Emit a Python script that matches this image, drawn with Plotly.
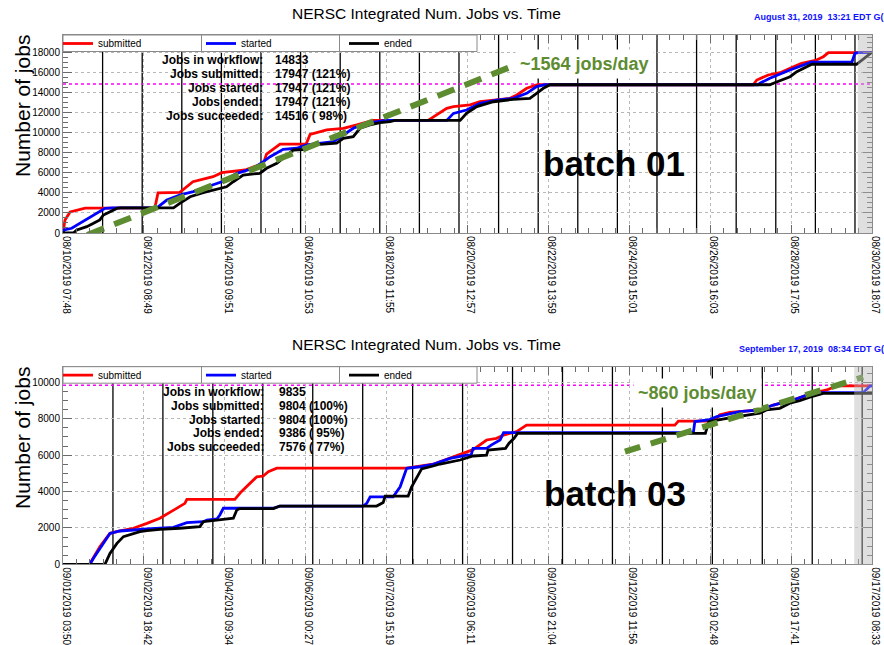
import numpy as np
import pandas as pd
import plotly.graph_objects as go

W, H = 884, 645
FONT = "Liberation Sans, Arial, Helvetica, sans-serif"

# ---------------- data: batch 01 (top) ----------------
top_start = "2019-08-10 07:48"
top_end = "2019-08-30 18:07"
top_tick_labels = ["08/10/2019 07:48", "08/12/2019 08:49", "08/14/2019 09:51", "08/16/2019 10:53",
                   "08/18/2019 11:55", "08/20/2019 12:57", "08/22/2019 13:59", "08/24/2019 15:01",
                   "08/26/2019 16:03", "08/28/2019 17:05", "08/30/2019 18:07"]
# days since start
top_sub_days = [0, 0.05, 0.18, 0.43, 0.56, 2.32, 2.40, 2.95, 3.12, 3.28, 3.79, 4.01, 4.60, 5.06, 5.14,
                5.48, 6.14, 6.24, 6.66, 7.08, 7.42, 7.67, 7.83, 9.22, 9.44, 9.69, 9.86, 10.28, 10.53, 10.95,
                11.29, 11.46, 11.71, 11.96, 12.05, 17.43, 17.52, 17.81, 18.11, 18.36, 18.65, 19.03, 19.20,
                19.33, 20.43]
top_sub_vals = [0, 1300, 2100, 2300, 2480, 2500, 4000, 4050, 4600, 5100, 5600, 6000, 6270, 6930, 7860,
                8850, 8850, 9800, 10250, 10420, 10750, 11070, 11200, 11200, 11740, 12400, 12570, 12740,
                13060, 13230, 13400, 13730, 14400, 14730, 14750, 14750, 15220, 15720, 15950, 16390,
                16880, 17210, 17540, 17947, 17947]
top_sta_days = [0, 0.03, 0.22, 0.43, 0.68, 0.93, 1.06, 1.26, 2.37, 2.62, 2.95, 3.29, 3.63, 4.01, 4.39,
                4.81, 5.06, 5.23, 5.56, 5.90, 6.15, 6.83, 7.08, 7.33, 7.67, 8.01, 8.13, 9.69, 9.86, 10.19,
                10.53, 10.95, 11.37, 11.71, 11.96, 12.17, 17.55, 17.60, 17.85, 18.36, 18.78, 18.89, 19.92,
                20.00, 20.08, 20.43]
top_sta_vals = [0, 300, 470, 960, 1620, 2120, 2450, 2500, 2500, 3280, 3780, 4110, 4600, 5100, 5940,
                6440, 7100, 7590, 8330, 8430, 8760, 9080, 9750, 10420, 10920, 11170, 11200, 11200, 11900,
                12240, 12900, 13230, 13400, 13900, 14560, 14750, 14750, 14900, 15400, 16220, 16880,
                16990, 16990, 17880, 17947, 17947]
top_end_days = [0, 0.26, 0.35, 0.60, 0.77, 0.93, 1.02, 1.19, 1.36, 1.44, 2.79, 2.95, 3.21, 3.54, 3.96,
                4.13, 4.30, 4.55, 4.97, 5.14, 5.40, 5.73, 5.82, 6.15, 6.32, 6.91, 7.08, 7.33, 7.50, 7.75,
                8.01, 8.26, 8.38, 10.03, 10.19, 10.45, 10.87, 11.37, 11.79, 11.96, 12.13, 12.30, 17.85,
                17.94, 18.36, 18.53, 18.78, 18.91, 20.04, 20.42]
top_end_vals = [0, 0, 300, 630, 960, 1300, 1790, 2120, 2450, 2500, 2500, 2950, 3610, 4010, 4450,
                4600, 5100, 5770, 5940, 6440, 6930, 7930, 8260, 8330, 8760, 8930, 9420, 9580, 10420,
                10750, 10980, 11070, 11200, 11200, 11910, 12570, 13060, 13300, 13400, 13900, 14400,
                14750, 14750, 14900, 15550, 16050, 16490, 16790, 16790, 17947]
top_fit_days = [0.61, 11.29]
top_fit_vals = [-200, 16500]
top_fit_label = "~1564 jobs/day"
top_band_start_day = 20.07
top_workflow = 14833
top_stat_labels = ["Jobs in workflow:", "Jobs submitted:", "Jobs started:", "Jobs ended:", "Jobs succeeded:"]
top_stat_values = ["14833", "17947 (121%)", "17947 (121%)", "17947 (121%)", "14516 ( 98%)"]
top_stamp = "August 31, 2019  13:21 EDT G("
top_batch = "batch 01"
top_ymax = 19700

# ---------------- data: batch 03 (bottom) ----------------
bot_start = "2019-09-01 03:50"
bot_end = "2019-09-17 08:33"
bot_tick_labels = ["09/01/2019 03:50", "09/02/2019 18:42", "09/04/2019 09:34", "09/06/2019 00:27",
                   "09/07/2019 15:19", "09/09/2019 06:11", "09/10/2019 21:04", "09/12/2019 11:56",
                   "09/14/2019 02:48", "09/15/2019 17:41", "09/17/2019 08:33"]
bot_sub_days = [0, 0.53, 0.74, 0.94, 1.14, 1.41, 1.68, 1.94, 2.24, 2.44, 2.48, 3.44, 3.57, 3.74, 3.88,
                4.01, 4.11, 4.28, 6.88, 7.41, 7.75, 8.01, 8.21, 8.48, 8.68, 8.82, 9.08, 9.28, 12.25, 12.32,
                13.02, 13.15, 13.35, 13.95, 14.22, 14.62, 15.02, 15.29, 15.49, 16.20]
bot_sub_vals = [0, 0, 970, 1700, 1830, 1980, 2250, 2530, 3020, 3350, 3570, 3570, 3990, 4450, 4810,
                4850, 5090, 5280, 5280, 5500, 5840, 6100, 6300, 6830, 6920, 7100, 7290, 7650, 7650, 7870,
                7870, 8210, 8350, 8480, 8750, 9030, 9400, 9580, 9804, 9804]
bot_sta_days = [0, 0.54, 0.61, 0.81, 0.94, 1.14, 1.34, 1.68, 2.21, 2.48, 2.81, 2.88, 3.08, 3.14, 3.21,
                4.21, 4.34, 6.01, 6.08, 6.15, 6.61, 6.75, 6.88, 7.15, 7.41, 7.75, 8.08, 8.17, 8.21, 8.48,
                8.58, 8.75, 8.82, 12.62, 12.65, 12.92, 13.09, 13.55, 13.95, 14.22, 14.62, 15.02, 16.02,
                16.16, 16.20]
bot_sta_vals = [0, 0, 330, 1150, 1700, 1830, 1880, 1940, 2030, 2290, 2340, 2430, 2490, 2710, 3080,
                3080, 3200, 3200, 3350, 3710, 3710, 4260, 5270, 5360, 5490, 5820, 6000, 6000, 6370, 6370,
                6560, 6830, 7230, 7230, 7840, 7930, 8110, 8390, 8480, 8750, 9030, 9430, 9430, 9804, 9804]
bot_end_days = [0, 0.84, 0.94, 1.08, 1.21, 1.41, 1.54, 1.68, 1.94, 2.34, 2.74, 2.81, 3.14, 3.34, 3.41,
                3.48, 3.54, 4.21, 4.34, 6.28, 6.41, 6.45, 6.91, 6.98, 7.18, 7.41, 7.55, 7.95, 8.21, 8.48,
                8.51, 8.86, 8.93, 9.03, 9.10, 12.86, 12.93, 13.29, 13.69, 13.95, 14.08, 14.35, 14.55,
                14.75, 14.95, 15.22, 16.20]
bot_end_vals = [0, 0, 600, 1150, 1520, 1700, 1790, 1850, 1920, 1980, 2070, 2340, 2430, 2470, 2530,
                2980, 3060, 3060, 3200, 3200, 3390, 3750, 3750, 4260, 5240, 5400, 5510, 5730, 5950, 6000,
                6280, 6370, 6650, 6920, 7190, 7190, 7840, 8020, 8200, 8300, 8480, 8570, 8850, 8990,
                9180, 9386, 9386]
bot_fit_days = [11.25, 16.02]
bot_fit_vals = [6190, 10290]
bot_fit_label = "~860 jobs/day"
bot_band_start_day = 15.84
bot_workflow = 9835
bot_stat_labels = ["Jobs in workflow:", "Jobs submitted:", "Jobs started:", "Jobs ended:", "Jobs succeeded:"]
bot_stat_values = ["9835", "9804 (100%)", "9804 (100%)", "9386 ( 95%)", "7576 ( 77%)"]
bot_stamp = "September 17, 2019  08:34 EDT G("
bot_batch = "batch 03"
bot_ymax = 10857

series_names = ["submitted", "started", "ended"]
series_colors = ["#ff0000", "#0000ff", "#000000"]
fit_color = "#5e8c31"


def px(x):
    return x / W


def py(y):
    return 1 - y / H


def to_time(start, days):
    return pd.Timestamp(start) + pd.to_timedelta(np.asarray(days, dtype=float), unit="D")


fig = go.Figure()
shapes = []
annotations = []

panels = [
    dict(xa="x", ya="y", xname="xaxis", yname="yaxis", legend="legend",
         start=top_start, end=top_end, labels=top_tick_labels,
         series=[(top_sub_days, top_sub_vals), (top_sta_days, top_sta_vals), (top_end_days, top_end_vals)],
         fit=(top_fit_days, top_fit_vals), fit_label=top_fit_label, band=top_band_start_day,
         workflow=top_workflow, stat_labels=top_stat_labels, stat_values=top_stat_values,
         stamp=top_stamp, batch=top_batch, ymax=top_ymax,
         top=35, bottom=233, stats_y0=60, stat_lab_x=265, stat_val_x=273,
         fit_lab=(584, 64), stamp_pos=(752, 17), title_y=13, batch_pos=(614, 163),
         ytitle_y=106, dash="18px,11px"),
    dict(xa="x2", ya="y2", xname="xaxis2", yname="yaxis2", legend="legend2",
         start=bot_start, end=bot_end, labels=bot_tick_labels,
         series=[(bot_sub_days, bot_sub_vals), (bot_sta_days, bot_sta_vals), (bot_end_days, bot_end_vals)],
         fit=(bot_fit_days, bot_fit_vals), fit_label=bot_fit_label, band=bot_band_start_day,
         workflow=bot_workflow, stat_labels=bot_stat_labels, stat_values=bot_stat_values,
         stamp=bot_stamp, batch=bot_batch, ymax=bot_ymax,
         top=366.7, bottom=564.3, stats_y0=391.7, stat_lab_x=266, stat_val_x=277,
         fit_lab=(697, 393), stamp_pos=(737, 349), title_y=345, batch_pos=(615, 493),
         ytitle_y=438, dash="16px,11px"),
]

axis_common = dict(
    showline=True, linecolor="#8a8a8a", linewidth=1, mirror="allticks",
    ticks="inside", tickcolor="#6a6a6a", tickwidth=1, automargin=False,
    showgrid=True, gridcolor="#b8b8b8", griddash="dot", gridwidth=1,
    zeroline=False, tickfont=dict(family=FONT, size=10, color="black"),
)

layout_axes = {}
for p in panels:
    t0 = pd.Timestamp(p["start"])
    t1 = pd.Timestamp(p["end"])
    major = pd.date_range(t0, t1, periods=11)
    minor = pd.date_range(t0, t1, periods=61)
    span_days = (t1 - t0) / pd.Timedelta(days=1)

    # curves
    for name, color, (d, v) in zip(series_names, series_colors, p["series"]):
        fig.add_trace(go.Scatter(
            x=to_time(p["start"], d), y=v, mode="lines", name=name,
            line=dict(color=color, width=2.8), xaxis=p["xa"], yaxis=p["ya"],
            legend=p["legend"], showlegend=True, hoverinfo="skip"))
    # fitted rate line
    fd, fv = p["fit"]
    fig.add_trace(go.Scatter(
        x=to_time(p["start"], fd), y=fv, mode="lines", showlegend=False,
        line=dict(color=fit_color, width=6, dash=p["dash"]),
        xaxis=p["xa"], yaxis=p["ya"], hoverinfo="skip"))

    # axes
    layout_axes[p["xname"]] = dict(
        axis_common, domain=[px(63), px(872)], anchor=p["ya"], type="date",
        range=[t0, t1], tickmode="array", tickvals=list(major), ticktext=p["labels"],
        tickangle=90, ticklen=8, ticklabelshift=3,
        tickfont=dict(family=FONT, size=10, color="black"),
        minor=dict(tickmode="array", tickvals=list(minor), ticks="inside", ticklen=5,
                   tickcolor="#6a6a6a", showgrid=False),
    )
    layout_axes[p["yname"]] = dict(
        axis_common, domain=[py(p["bottom"]), py(p["top"])], anchor=p["xa"],
        range=[0, p["ymax"]], tickmode="linear", tick0=0, dtick=2000, ticklen=9,
        tickformat="d",
        minor=dict(dtick=500, ticks="inside", ticklen=5, tickcolor="#6a6a6a", showgrid=False),
    )

    # daily vertical lines
    for k in range(1, int(np.floor(span_days)) + 1):
        tk = t0 + pd.Timedelta(days=k)
        shapes.append(dict(type="line", xref=p["xa"], yref=f"{p['ya']} domain",
                           x0=tk, x1=tk, y0=0, y1=1, layer="below",
                           line=dict(color="black", width=1.3)))
    # workflow line
    shapes.append(dict(type="line", xref=f"{p['xa']} domain", yref=p["ya"], x0=0, x1=1,
                       y0=p["workflow"], y1=p["workflow"], layer="below",
                       line=dict(color="#ff00ff", width=1.5, dash="dot")))
    # grey band at the end
    shapes.append(dict(type="rect", xref=p["xa"], yref=f"{p['ya']} domain",
                       x0=t0 + pd.Timedelta(days=p["band"]), x1=t1, y0=0, y1=1, layer="above",
                       fillcolor="rgba(185,185,185,0.45)", line=dict(width=0)))
    # legend box and dividers
    top = p["top"]
    shapes.append(dict(type="rect", xref="paper", yref="paper", x0=px(63), x1=px(477),
                       y0=py(top + 16.5), y1=py(top), layer="above",
                       fillcolor="white", line=dict(color="#8a8a8a", width=1)))
    for xd in (201.5, 339.5):
        shapes.append(dict(type="line", xref="paper", yref="paper", x0=px(xd), x1=px(xd),
                           y0=py(top + 16.5), y1=py(top), layer="above",
                           line=dict(color="#8a8a8a", width=1)))

    # title
    annotations.append(dict(text="NERSC Integrated Num. Jobs vs. Time", xref="paper", yref="paper",
                            x=px(426), y=py(p["title_y"]), xanchor="center", yanchor="middle",
                            showarrow=False, font=dict(family=FONT, size=15.5, color="black")))
    # time stamp
    annotations.append(dict(text=f"<b>{p['stamp']}</b>", xref="paper", yref="paper",
                            x=px(p["stamp_pos"][0]), y=py(p["stamp_pos"][1]), xanchor="left",
                            yanchor="middle", showarrow=False,
                            font=dict(family=FONT, size=9, color="#1010ff")))
    # y title
    annotations.append(dict(text="Number of jobs", xref="paper", yref="paper", x=px(22),
                            y=py(p["ytitle_y"]), xanchor="center", yanchor="middle", textangle=-90,
                            showarrow=False, font=dict(family=FONT, size=21, color="black")))
    # stats
    for i, (lab, val) in enumerate(zip(p["stat_labels"], p["stat_values"])):
        yy = py(p["stats_y0"] + 13.9 * i)
        annotations.append(dict(text=f"<b>{lab}</b>", xref="paper", yref="paper",
                                x=px(p["stat_lab_x"]), y=yy, xanchor="right", yanchor="middle",
                                showarrow=False, font=dict(family=FONT, size=12, color="black")))
        annotations.append(dict(text="<b>" + val.replace(" ", "\u00a0") + "</b>", xref="paper",
                                yref="paper", x=px(p["stat_val_x"]), y=yy, xanchor="left",
                                yanchor="middle", showarrow=False,
                                font=dict(family=FONT, size=12, color="black")))
    # batch label
    annotations.append(dict(text=f"<b>{p['batch']}</b>", xref="paper", yref="paper",
                            x=px(p["batch_pos"][0]), y=py(p["batch_pos"][1]), xanchor="center",
                            yanchor="middle", showarrow=False,
                            font=dict(family=FONT, size=35, color="black")))
    # fit label
    annotations.append(dict(text=f"<b>{p['fit_label']}</b>", xref="paper", yref="paper",
                            x=px(p["fit_lab"][0]), y=py(p["fit_lab"][1]), xanchor="center",
                            yanchor="middle", showarrow=False, bgcolor="white", borderpad=4,
                            font=dict(family=FONT, size=18, color=fit_color)))

legend_common = dict(orientation="h", xanchor="left", yanchor="top", bgcolor="rgba(0,0,0,0)",
                     borderwidth=0, entrywidth=98, entrywidthmode="pixels", itemwidth=30,
                     font=dict(family=FONT, size=10, color="black"), tracegroupgap=0)

fig.update_layout(
    width=W, height=H, margin=dict(l=0, r=0, t=0, b=0),
    paper_bgcolor="white", plot_bgcolor="white",
    font=dict(family=FONT, color="black"),
    shapes=shapes, annotations=annotations,
    legend=dict(legend_common, x=px(58), y=py(29)),
    legend2=dict(legend_common, x=px(58), y=py(360.7)),
    **layout_axes,
)

fig.write_html("out.html", config={"displayModeBar": False},
               post_script="document.body.style.margin='0';document.body.style.overflow='hidden';")
